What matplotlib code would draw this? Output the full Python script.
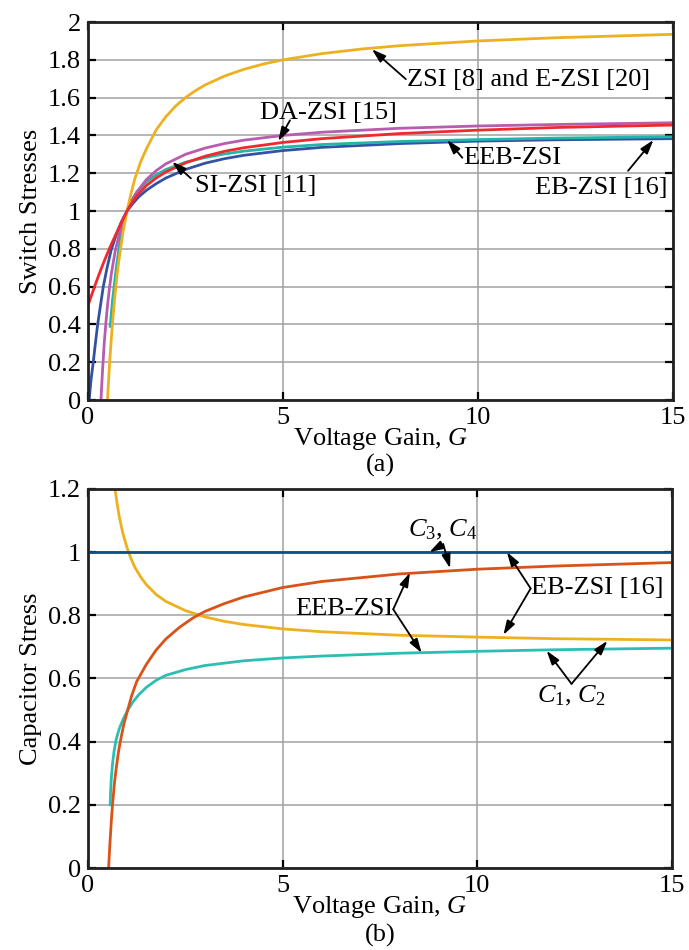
import matplotlib
matplotlib.use("Agg")
import matplotlib.pyplot as plt

# ---- data ----
# (a) switch stresses
zsi_g = [0.5, 0.53, 0.56, 0.6, 0.65, 0.7, 0.75, 0.8, 0.9, 1.0, 1.1, 1.2, 1.35, 1.5, 1.75,
         2, 2.25, 2.5, 2.75, 3, 3.5, 4, 4.5, 5, 6, 7, 8, 10, 12, 15]
zsi_s = [0, 0.11, 0.21, 0.33, 0.46, 0.57, 0.67, 0.75, 0.89, 1.0, 1.09, 1.17, 1.26, 1.33, 1.43,
         1.5, 1.556, 1.6, 1.636, 1.667, 1.714, 1.75, 1.778, 1.8, 1.833, 1.857, 1.875, 1.9,
         1.917, 1.935]

si_g = [0.333, 0.35, 0.38, 0.42, 0.46, 0.5, 0.55, 0.6, 0.65, 0.7, 0.8, 0.9, 1.0, 1.1, 1.25,
        1.5, 1.75, 2, 2.5, 3, 3.5, 4, 5, 6, 8, 10, 12, 15]
si_s = [0, 0.07, 0.18, 0.31, 0.41, 0.5, 0.59, 0.67, 0.73, 0.79, 0.875, 0.944, 1.0, 1.045,
        1.1, 1.167, 1.214, 1.25, 1.3, 1.333, 1.357, 1.375, 1.4, 1.417, 1.438, 1.45, 1.458,
        1.467]

da_g = [0, 0.1, 0.2, 0.3, 0.4, 0.5, 0.6, 0.7, 0.8, 0.9, 1.0, 1.1, 1.25, 1.5, 1.75, 2, 2.5,
        3, 3.5, 4, 5, 6, 8, 10, 12, 15]
da_s = [0.5, 0.56, 0.618, 0.674, 0.727, 0.777, 0.825, 0.87, 0.914, 0.957, 1.0, 1.036, 1.08,
        1.135, 1.175, 1.207, 1.255, 1.29, 1.316, 1.335, 1.363, 1.383, 1.41, 1.428, 1.442,
        1.455]

eeb_g = [0.57, 0.6, 0.63, 0.67, 0.72, 0.78, 0.85, 0.92, 1.0, 1.1, 1.25, 1.5, 1.75, 2, 2.5,
         3, 3.5, 4, 5, 6, 8, 10, 12, 15]
eeb_s = [0.39, 0.46, 0.53, 0.6, 0.69, 0.78, 0.88, 0.945, 1.0, 1.05, 1.1, 1.155, 1.192, 1.22,
         1.258, 1.283, 1.302, 1.317, 1.338, 1.352, 1.368, 1.378, 1.386, 1.393]

eb_g = [0.03, 0.08, 0.135, 0.19, 0.248, 0.32, 0.392, 0.49, 0.59, 0.7, 0.85, 1.0, 1.15, 1.3,
        1.5, 1.75, 2, 2.5, 3, 3.5, 4, 5, 6, 8, 10, 12, 15]
eb_s = [0, 0.11, 0.2, 0.3, 0.4, 0.5, 0.6, 0.7, 0.79, 0.86, 0.94, 1.0, 1.04, 1.075, 1.11,
        1.145, 1.175, 1.22, 1.253, 1.277, 1.295, 1.32, 1.337, 1.357, 1.37, 1.377, 1.383]

# (b) capacitor stresses
c34_g = [0, 15]
c34_v = [1, 1]

ebc_g = [0.66, 0.7, 0.75, 0.8, 0.85, 0.9, 1.0, 1.1, 1.2, 1.35, 1.5, 1.75, 2, 2.5, 3, 3.5,
         4, 5, 6, 8, 10, 12, 15]
ebc_v = [1.236, 1.195, 1.152, 1.115, 1.085, 1.058, 1.015, 0.981, 0.953, 0.922, 0.897, 0.866,
         0.844, 0.815, 0.795, 0.781, 0.771, 0.757, 0.748, 0.737, 0.731, 0.726, 0.722]

eeb34_g = [0.53, 0.56, 0.6, 0.63, 0.68, 0.73, 0.78, 0.83, 0.92, 1.02, 1.12, 1.25, 1.5, 1.75,
           2, 2.35, 2.7, 3, 3.5, 4, 5, 6, 8, 10, 12, 15]
eeb34_v = [0, 0.07, 0.15, 0.2, 0.27, 0.32, 0.365, 0.4, 0.455, 0.5, 0.545, 0.59, 0.645, 0.69,
           0.725, 0.762, 0.792, 0.812, 0.837, 0.858, 0.888, 0.907, 0.931, 0.946, 0.956, 0.967]

eeb12_g = [0.57, 0.58, 0.6, 0.63, 0.67, 0.72, 0.8, 0.9, 1.02, 1.15, 1.3, 1.5, 1.76, 2, 2.5,
           3, 4, 5, 6, 8, 10, 12, 15]
eeb12_v = [0.2, 0.24, 0.285, 0.33, 0.37, 0.405, 0.44, 0.47, 0.5, 0.525, 0.548, 0.572, 0.595,
           0.61, 0.628, 0.641, 0.656, 0.665, 0.671, 0.68, 0.686, 0.691, 0.696]

x_ticks = [0, 5, 10, 15]
ya_ticks = [0, 0.2, 0.4, 0.6, 0.8, 1, 1.2, 1.4, 1.6, 1.8, 2]
ya_labels = ["0", "0.2", "0.4", "0.6", "0.8", "1", "1.2", "1.4", "1.6", "1.8", "2"]
yb_ticks = [0, 0.2, 0.4, 0.6, 0.8, 1, 1.2]
yb_labels = ["0", "0.2", "0.4", "0.6", "0.8", "1", "1.2"]

plt.rcParams.update({
    "font.family": "Liberation Serif",
    "font.size": 19,
    "mathtext.fontset": "custom",
    "mathtext.rm": "Liberation Serif",
    "mathtext.it": "Liberation Serif:italic",
})

fig = plt.figure(figsize=(6.89, 9.5), dpi=100)
ax1 = fig.add_axes([0.1277, 0.5789, 0.849, 0.3979])
ax2 = fig.add_axes([0.1277, 0.0863, 0.8476, 0.399])

arrow = dict(arrowstyle="-|>,head_length=0.7,head_width=0.22", color="black",
             lw=1.3, shrinkA=0, shrinkB=0, mutation_scale=12)


def style_axes(ax, yticks, ylabels, ylim):
    ax.set_xlim(0, 15)
    ax.set_ylim(*ylim)
    ax.set_xticks(x_ticks)
    ax.set_yticks(yticks)
    ax.set_yticklabels(ylabels)
    ax.grid(True, color="#a0a0a0", lw=1.1)
    ax.set_axisbelow(True)
    ax.tick_params(direction="in", length=6, width=1.6, top=True, right=True, pad=5)
    for sp in ax.spines.values():
        sp.set_linewidth(2)
        sp.set_color("#222222")
    ax.set_xlabel("Voltage Gain, $G$", labelpad=-2)


def pointer(ax, tail, head):
    ax.annotate("", xy=head, xytext=tail, arrowprops=arrow)


# ---- (a) ----
lw = 2.0
ax1.plot(eb_g, eb_s, color="#3452a4", lw=lw, solid_joinstyle="round")
ax1.plot(eeb_g, eeb_s, color="#22b5a8", lw=lw, solid_joinstyle="round")
ax1.plot(si_g, si_s, color="#b85cb0", lw=lw, solid_joinstyle="round")
ax1.plot(zsi_g, zsi_s, color="#edb120", lw=lw, solid_joinstyle="round")
ax1.plot(da_g, da_s, color="#ee2a2f", lw=lw, solid_joinstyle="round")
style_axes(ax1, ya_ticks, ya_labels, (0, 2))
ax1.set_ylabel("Switch Stresses", labelpad=4)
ax1.text(0.5, -0.172, "(a)", transform=ax1.transAxes, ha="center", va="center")

ax1.text(8.17, 1.693, "ZSI [8] and E-ZSI [20]", ha="left", va="center")
pointer(ax1, (8.15, 1.698), (7.28, 1.856))
ax1.text(4.4, 1.52, "DA-ZSI [15]", ha="left", va="center")
pointer(ax1, (5.18, 1.48), (4.88, 1.37))
ax1.text(2.74, 1.132, "SI-ZSI [11]", ha="left", va="center")
pointer(ax1, (2.64, 1.173), (2.16, 1.261))
ax1.text(9.63, 1.278, "EEB-ZSI", ha="left", va="center")
pointer(ax1, (9.6, 1.282), (9.21, 1.376))
ax1.text(14.85, 1.12, "EB-ZSI [16]", ha="right", va="center")
pointer(ax1, (13.85, 1.213), (14.5, 1.376))

# ---- (b) ----
ax2.plot(eeb12_g, eeb12_v, color="#2bbfb3", lw=lw, solid_joinstyle="round")
ax2.plot(ebc_g, ebc_v, color="#edb120", lw=lw, solid_joinstyle="round")
ax2.plot(eeb34_g, eeb34_v, color="#d95319", lw=lw, solid_joinstyle="round")
ax2.plot(c34_g, c34_v, color="#0e4f85", lw=lw)
style_axes(ax2, yb_ticks, yb_labels, (0, 1.2))
ax2.set_ylabel("Capacitor Stress", labelpad=4)
ax2.text(0.5, -0.177, "(b)", transform=ax2.transAxes, ha="center", va="center")

ax2.text(9.12, 1.07, r"$C_\mathrm{3}$, $C_\mathrm{4}$", ha="center", va="center")
pointer(ax2, (9.125, 1.025), (8.77, 1.0))
pointer(ax2, (9.125, 1.025), (9.3, 0.949))

ax2.text(7.84, 0.819, "EEB-ZSI", ha="right", va="center")
pointer(ax2, (7.84, 0.819), (8.27, 0.935))
pointer(ax2, (7.84, 0.819), (8.57, 0.681))

ax2.text(11.37, 0.885, "EB-ZSI [16]", ha="left", va="center")
pointer(ax2, (11.37, 0.885), (10.76, 1.0))
pointer(ax2, (11.37, 0.885), (10.67, 0.738))

ax2.text(12.42, 0.545, r"$C_\mathrm{1}$, $C_\mathrm{2}$", ha="center", va="center")
pointer(ax2, (12.42, 0.583), (11.78, 0.688))
pointer(ax2, (12.42, 0.583), (13.34, 0.719))

fig.savefig("out.png", dpi=100)
